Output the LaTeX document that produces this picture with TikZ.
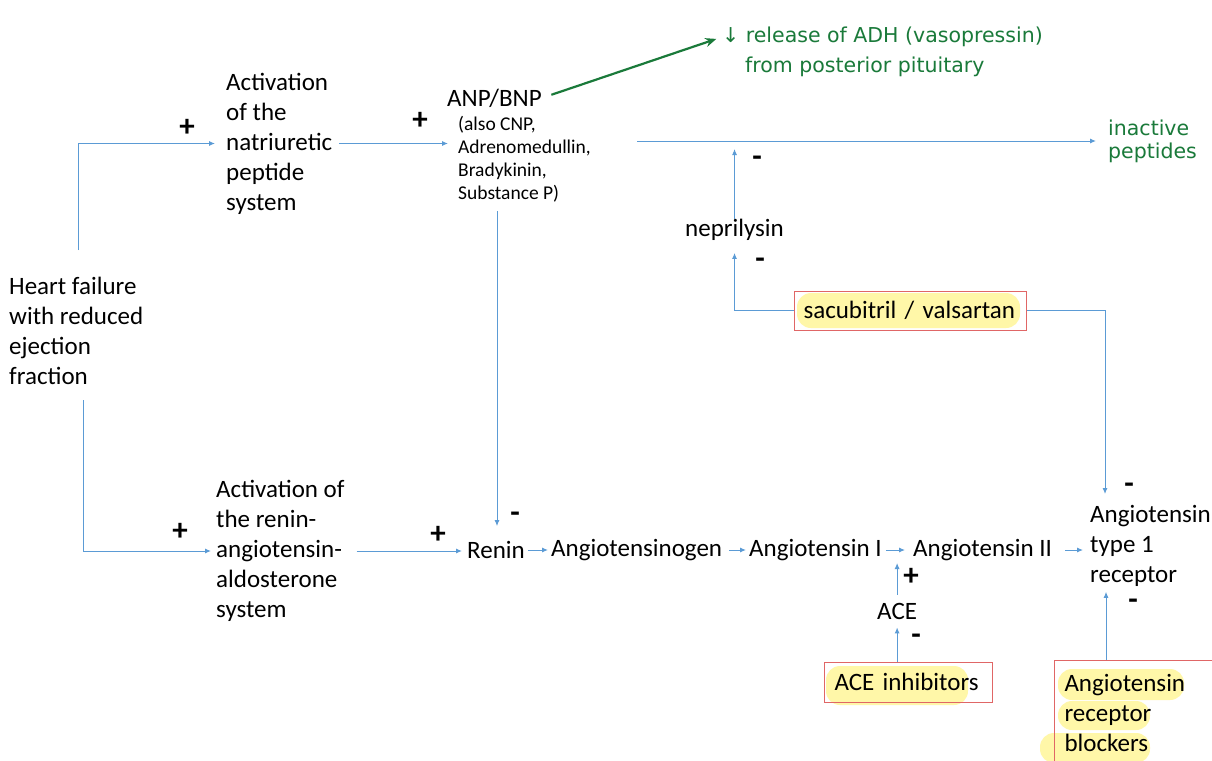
\documentclass[tikz,border=0pt]{standalone}
\usepackage{fontspec}
\setmainfont{Carlito}
\newfontfamily\handfont{DejaVu Sans}
\usetikzlibrary{arrows.meta}
\definecolor{lblue}{HTML}{5B9BD5}
\definecolor{hgreen}{HTML}{1A7A3A}
\definecolor{boxred}{HTML}{E06666}
\definecolor{hl}{HTML}{FFF7A8}
\begin{document}
\begin{tikzpicture}[x=1pt,y=-1pt,
 txt/.style={inner sep=0pt, anchor=west, align=left, font=\fontsize{25}{30}\selectfont},
 small/.style={inner sep=0pt, anchor=west, align=left, font=\fontsize{19.5}{23}\selectfont},
 arr/.style={lblue, line width=1pt, -{Latex[length=6pt,width=5pt]}},
 sgn/.style={inner sep=0pt, font=\fontsize{31}{31}\selectfont\bfseries},
 redbox/.style={draw=boxred, line width=1pt},
 hlmark/.style={fill=hl, rounded corners=14pt},
 handtxt/.style={text=hgreen, inner sep=0pt, anchor=west, align=left, font=\handfont\fontsize{20.5}{23}\selectfont}]
\useasboundingbox (0,0) rectangle (1212,760);
\fill[white] (0,0) rectangle (1212,760);

% highlights
\fill[hlmark] (797,293) rectangle (1020,328);
\fill[hlmark] (826,666) rectangle (968,705);
\fill[hlmark] (1058,669) rectangle (1184,700);
\fill[hlmark] (1058,701) rectangle (1150,730);
\fill[hlmark] (1040,733) rectangle (1150,763);

% text nodes
\node[txt] (hf) at (9,331) {Heart failure\\with reduced\\ejection\\fraction};
\node[txt] (nps) at (226,143.5) {Activation\\of the\\natriuretic\\peptide\\system};
\node[txt] (raas) at (216,551) {Activation of\\the renin-\\angiotensin-\\aldosterone\\system};
\node[txt] (anp) at (447,98) {ANP/BNP};
\node[small] (anpx) at (458,159) {(also CNP,\\Adrenomedullin,\\Bradykinin,\\Substance P)};
\node[txt] (renin) at (467,550) {Renin};
\node[txt] (agen) at (551,550) {Angiotensinogen};
\node[txt] (a1) at (749,550) {Angiotensin I};
\node[txt] (a2) at (913,550) {Angiotensin II};
\node[txt] (at1) at (1090,546) {Angiotensin\\type 1\\receptor};
\node[txt] (ace) at (877,611) {ACE};
\node[txt] (nep) at (685,230) {neprilysin};
\node[txt, redbox, inner xsep=9pt, text width=214pt, minimum height=39pt] (sac) at (794,310.5) {sacubitril / valsartan};
\node[txt, redbox, inner xsep=10pt, text width=148pt, minimum height=40pt] (aceinh) at (824,682) {ACE inhibitors};
\node[txt, redbox, anchor=north west, inner xsep=10pt, inner ysep=14pt, text width=190pt] (arb) at (1054,660) {Angiotensin\\receptor\\blockers};

% handwritten
\node[handtxt] (adh) at (722,37) {↓ release of ADH (vasopressin)};
\node[handtxt] (adh2) at (745,67) {from posterior pituitary};
\node[handtxt] (inact) at (1108,141) {inactive\\peptides};
\draw[hgreen, line width=2.2pt, -{Stealth[length=11pt,width=9pt]}, shorten <=10pt, shorten >=6pt] (anp.east) -- (adh.west);

% connectors
\coordinate (hfu) at (78,250);
\coordinate (hfd) at (83,400);
\coordinate (pstart) at (637,141);
\coordinate (at1top) at (1105,494);
\coordinate (anpd) at ([xshift=39pt]anpx.south west);
\coordinate (arbu) at ([xshift=52pt]arb.north west);
\draw[arr, shorten >=11pt] (hfu) |- (nps.west);
\draw[arr, shorten >=5pt] (hfd) |- (raas.west);
\draw[arr, shorten <=7pt, shorten >=10pt] (nps.east) -- (nps.east -| anpx.west);
\draw[arr, shorten >=12pt] (pstart) -- (inact.west);
\draw[arr, shorten >=8pt] (nep.north) -- (nep.north |- pstart);
\draw[arr, shorten >=12pt] (sac.west) -| (nep.south);
\draw[arr] (sac.east) -| (at1top);
\draw[arr, shorten <=9pt, shorten >=15pt] (anpd) -- (anpd |- renin.north);
\draw[arr, shorten <=12pt, shorten >=5pt] (raas.east) -- (raas.east -| renin.west);
\draw[arr, shorten <=3pt, shorten >=3pt] (renin.east) -- (renin.east -| agen.west);
\draw[arr, shorten <=7pt, shorten >=3pt] (agen.east) -- (agen.east -| a1.west);
\draw[arr, shorten <=4pt, shorten >=8pt] (a1.east) -- (a1.east -| a2.west);
\draw[arr, shorten <=13pt, shorten >=7pt] (a2.east) -- (a2.east -| at1.west);
\draw[arr, shorten <=8pt, shorten >=13pt] (ace.north) -- (ace.north |- a1.east);
\draw[arr, shorten >=8pt] (ace.south |- aceinh.north) -- (ace.south);
\draw[arr, shorten >=5pt] (arbu) -- (arbu |- at1.south);

% signs
\node[sgn] (p1) at (187,128) {+};
\node[sgn] (p2) at (420,121) {+};
\node[sgn] (p3) at (180,532) {+};
\node[sgn] (p4) at (438,535) {+};
\node[sgn] (p5) at (911,577) {+};
\node[sgn] (m1) at (757,161) {-};
\node[sgn] (m2) at (760,263) {-};
\node[sgn] (m3) at (1129,488) {-};
\node[sgn] (m4) at (515,517) {-};
\node[sgn] (m5) at (916,639) {-};
\node[sgn] (m6) at (1133,604) {-};
\end{tikzpicture}
\end{document}
